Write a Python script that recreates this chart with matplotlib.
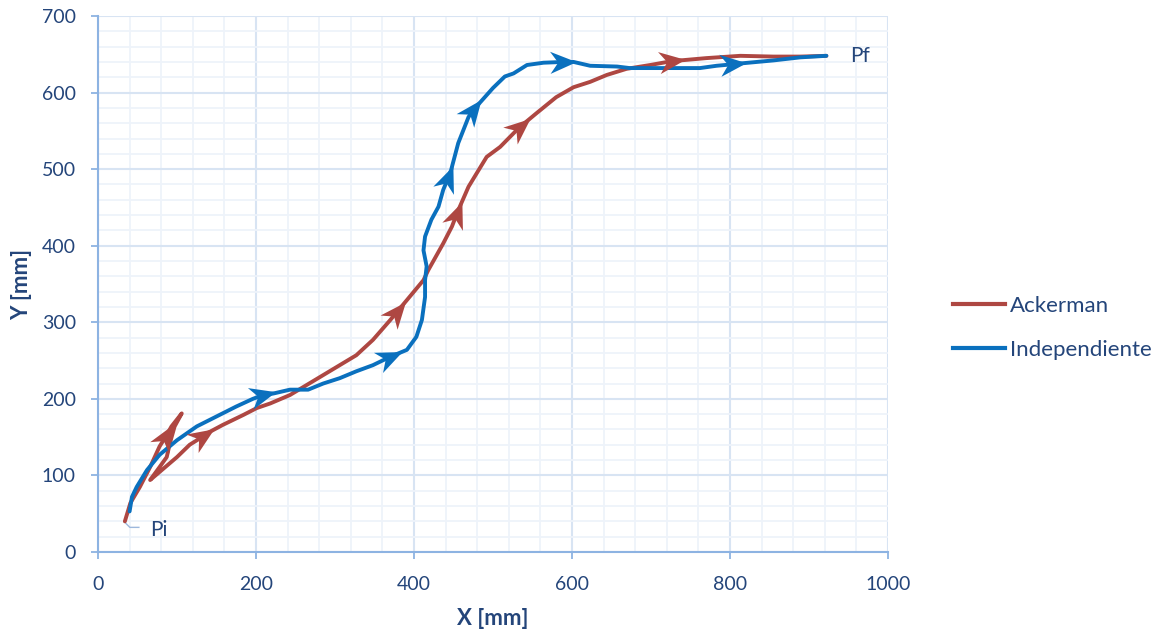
import numpy as np
import matplotlib
matplotlib.use("Agg")
import matplotlib.pyplot as plt
from matplotlib.path import Path
from matplotlib.markers import MarkerStyle
from matplotlib.lines import Line2D
from matplotlib.ticker import MultipleLocator
from matplotlib.transforms import ScaledTranslation

# Trajectory of the Ackerman-steered vehicle (mm)
ack_x = [34, 41, 53, 66, 78, 86, 93, 106, 97, 91, 87, 78, 66, 83, 100, 116, 133, 138,
         158, 184, 201, 218, 243, 264, 285, 306, 327, 348, 370, 378, 391, 412, 418, 437,
         448, 454, 458, 469, 479, 492, 509, 530, 534, 555, 580, 602, 623, 644, 669,
         699, 726, 770, 813, 855, 889, 922]
ack_y = [40, 64, 85, 111, 138, 151, 164, 181, 164, 142, 124, 111, 94, 109, 124, 140, 151, 155,
         166, 179, 188, 194, 205, 218, 231, 244, 257, 277, 303, 313, 329, 355, 368, 403,
         425, 441, 451, 477, 494, 516, 529, 551, 555, 573, 594, 607, 614, 623, 631,
         636, 641, 645, 648, 647, 647, 648]
ack_arrow_idx = [5, 16, 29, 35, 42, 50]

# Trajectory of the independently-steered vehicle (mm)
ind_x = [40, 43, 49, 62, 78, 100, 125, 150, 175, 196, 209, 222, 243, 266, 285, 306,
         327, 348, 370, 391, 403, 410, 414, 414, 416, 412, 414, 422, 431, 437, 443,
         447, 456, 469, 475, 481, 500, 515, 526, 543, 564, 589, 602, 623, 657, 673,
         762, 783, 804, 813, 855, 889, 922]
ind_y = [53, 72, 85, 107, 127, 146, 164, 177, 190, 200, 205, 207, 212, 212, 220, 227,
         236, 244, 255, 264, 281, 303, 333, 355, 373, 394, 412, 434, 451, 473, 488,
         499, 534, 568, 577, 584, 606, 621, 625, 636, 639, 640, 640, 635, 634, 632,
         632, 635, 637, 638, 642, 646, 648]
ind_arrow_idx = [10, 18, 30, 34, 41, 48]

series_names = ["Ackerman", "Independiente"]
series_colors = ["#AE4742", "#0A70BE"]
x_ticks = [0, 200, 400, 600, 800, 1000]
y_ticks = [0, 100, 200, 300, 400, 500, 600, 700]
start_label = "Pi"
end_label = "Pf"
x_title = "X [mm]"
y_title = "Y [mm]"

text_color = "#24457A"
font = "Lato"
plt.rcParams["font.family"] = [font, "DejaVu Sans"]

fig = plt.figure(figsize=(11.58, 6.34), dpi=100)
ax = fig.add_axes([98 / 1158, 1 - 552 / 634, 790 / 1158, 536 / 634])
ax.set_xlim(x_ticks[0], x_ticks[-1])
ax.set_ylim(y_ticks[0], y_ticks[-1])

# Grid: light major lines, fainter minor lines
ax.set_xticks(x_ticks)
ax.set_yticks(y_ticks)
ax.xaxis.set_minor_locator(MultipleLocator(40))
ax.yaxis.set_minor_locator(MultipleLocator(20))
ax.grid(which="minor", color="#EEF3FA", lw=1.3, zorder=0)
ax.grid(which="major", color="#D8E4F3", lw=1.5, zorder=0)
ax.set_axisbelow(True)
ax.tick_params(which="minor", length=0)
ax.tick_params(which="major", length=5, width=1.3, color="#8DB3E2",
               labelsize=14, labelcolor=text_color, direction="out")
ax.tick_params(axis="x", pad=12)
ax.tick_params(axis="y", pad=11)
for side in ["top", "right"]:
    ax.spines[side].set_visible(False)
for side in ["left", "bottom"]:
    ax.spines[side].set_color("#8DB3E2")
    ax.spines[side].set_linewidth(1.5)

ax.set_xlabel(x_title, fontsize=16, fontweight="bold", color=text_color, labelpad=11)
ax.set_ylabel(y_title, fontsize=16, fontweight="bold", color=text_color, labelpad=7)

# Notched arrowhead used to show the direction of travel
head = Path([(0.5, 0.0), (-0.5, 0.42), (-0.2, 0.0), (-0.5, -0.42), (0.5, 0.0)],
            [Path.MOVETO, Path.LINETO, Path.LINETO, Path.LINETO, Path.CLOSEPOLY])


def draw_path(xs, ys, arrow_idx, color):
    ax.plot(xs, ys, color=color, lw=2.8, solid_joinstyle="round",
            solid_capstyle="round", zorder=3)
    pts = ax.transData.transform(np.column_stack([xs, ys]))
    for i in arrow_idx:
        d = pts[min(i + 1, len(pts) - 1)] - pts[max(i - 1, 0)]
        ang = np.arctan2(d[1], d[0])
        m = MarkerStyle(head).rotated(rad=ang)
        ax.plot([xs[i]], [ys[i]], marker=m, markersize=19, color=color,
                markeredgewidth=0, linestyle="none", zorder=4)


draw_path(ack_x, ack_y, ack_arrow_idx, series_colors[0])
draw_path(ind_x, ind_y, ind_arrow_idx, series_colors[1])

# Start / end labels
dpi = fig.dpi
start_tr = fig.dpi_scale_trans + ScaledTranslation(ack_x[0], ack_y[0], ax.transData)
ax.plot(np.array([1, 5, 14]) / dpi, np.array([-2, -6, -6]) / dpi, color="#9DB8DC",
        lw=1.0, transform=start_tr, zorder=2, clip_on=False)
ax.annotate(start_label, (ack_x[0], ack_y[0]), xytext=(18, -6), textcoords="offset points",
            fontsize=15, color=text_color, va="center", ha="left")
ax.annotate(end_label, (ack_x[-1], ack_y[-1]), xytext=(17, 0), textcoords="offset points",
            fontsize=15, color=text_color, va="center", ha="left")

handles = [Line2D([], [], color=c, lw=3) for c in series_colors]
fig.legend(handles, series_names, loc="center left", bbox_to_anchor=(953 / 1158, 1 - 328 / 634),
           frameon=False, fontsize=16, labelcolor=text_color, handlelength=2.35,
           handletextpad=0.22, labelspacing=1.1, borderpad=0, borderaxespad=0)

fig.savefig("out.png", dpi=100)
